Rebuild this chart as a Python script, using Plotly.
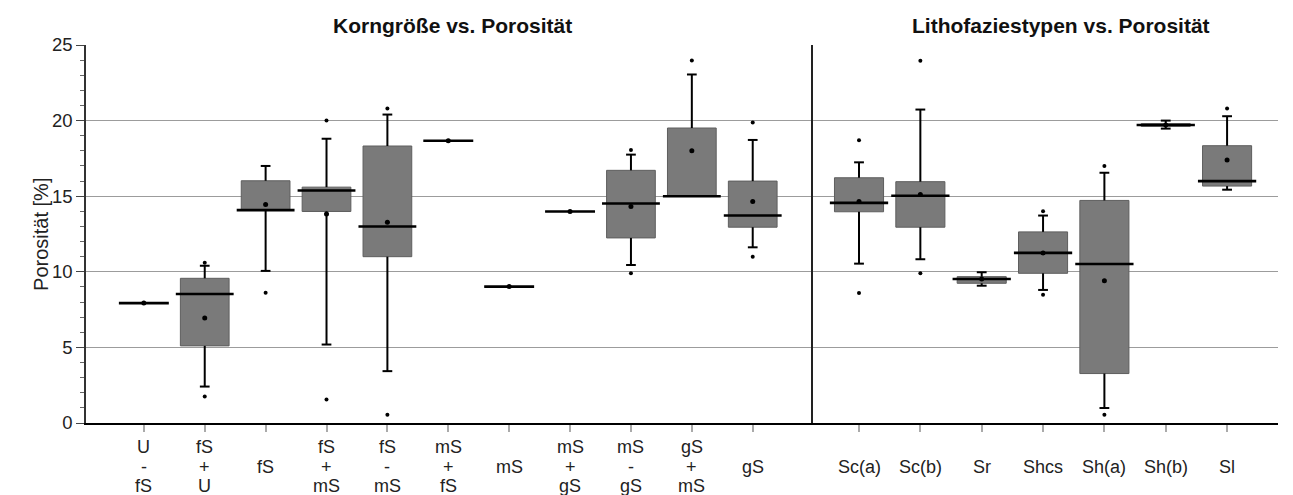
import plotly.graph_objects as go

# ---------------- data ----------------
labels_left = [["U", "-", "fS"], ["fS", "+", "U"], ["fS"], ["fS", "+", "mS"], ["fS", "-", "mS"],
               ["mS", "+", "fS"], ["mS"], ["mS", "+", "gS"], ["mS", "-", "gS"], ["gS", "+", "mS"],
               ["gS"]]
q1_left = [7.93, 5.10, 14.08, 13.99, 11.00, 18.67, 9.02, 13.99, 12.24, 15.00, 12.95]
med_left = [7.93, 8.53, 14.08, 15.38, 13.00, 18.67, 9.02, 13.99, 14.52, 15.00, 13.72]
q3_left = [7.93, 9.57, 16.02, 15.60, 18.32, 18.67, 9.02, 13.99, 16.71, 19.51, 16.00]
wlo_left = [7.93, 2.41, 10.06, 5.19, 3.43, 18.67, 9.02, 13.99, 10.45, 15.00, 11.62]
whi_left = [7.93, 10.40, 17.00, 18.80, 20.40, 18.67, 9.02, 13.99, 17.75, 23.05, 18.72]
mean_left = [7.93, 6.94, 14.45, 13.83, 13.28, 18.67, 9.02, 13.99, 14.32, 18.01, 14.65]
out_left = [[], [10.6, 1.75], [8.62], [20.0, 1.55], [20.8, 0.55], [], [], [], [18.06, 9.9], [23.98], [19.87, 11.0]]

labels_right = [["Sc(a)"], ["Sc(b)"], ["Sr"], ["Shcs"], ["Sh(a)"], ["Sh(b)"], ["Sl"]]
q1_right = [13.97, 12.95, 9.24, 9.90, 3.27, 19.62, 15.67]
med_right = [14.56, 15.03, 9.52, 11.25, 10.52, 19.71, 16.00]
q3_right = [16.22, 15.96, 9.68, 12.64, 14.72, 19.80, 18.34]
wlo_right = [10.54, 10.83, 9.08, 8.80, 0.99, 19.47, 15.43]
whi_right = [17.24, 20.73, 9.97, 13.72, 16.55, 20.00, 20.29]
mean_right = [14.65, 15.12, 9.52, 11.25, 9.41, 19.71, 17.39]
out_right = [[18.7, 8.6], [23.96, 9.9], [], [14.0, 8.49], [17.0, 0.55], [], [20.8]]

title_left = "Korngröße vs. Porosität"
title_right = "Lithofaziestypen vs. Porosität"
y_title = "Porosität [%]"

# ---------------- styles ----------------
FONT = "Liberation Sans, Arial, sans-serif"
BOX_FILL = "#7a7a7a"
BOX_LINE = "#5e5e5e"
BOX_W = 0.8
CAP_HW = 0.08
LABEL_FIRST = -24     # px below the x axis, first label line
LABEL_STEP = -19.5    # px between label lines


def panel_traces(q1, med, q3, wlo, whi, mean, outs, xa, ya):
    n = len(q1)
    xs = list(range(n))
    traces = []
    traces.append(go.Bar(x=xs, y=[b - a for a, b in zip(q1, q3)], base=q1, width=BOX_W,
                         marker=dict(color=BOX_FILL, line=dict(color=BOX_LINE, width=1)),
                         xaxis=xa, yaxis=ya, hoverinfo="skip", showlegend=False))
    wx, wy = [], []
    for i in xs:
        if whi[i] > q3[i]:
            wx += [i, i, None, i - CAP_HW, i + CAP_HW, None]
            wy += [q3[i], whi[i], None, whi[i], whi[i], None]
        if wlo[i] < q1[i]:
            wx += [i, i, None, i - CAP_HW, i + CAP_HW, None]
            wy += [q1[i], wlo[i], None, wlo[i], wlo[i], None]
    traces.append(go.Scatter(x=wx, y=wy, mode="lines", line=dict(color="black", width=2),
                             xaxis=xa, yaxis=ya, hoverinfo="skip", showlegend=False))
    mx, my = [], []
    for i in xs:
        hw = 0.475 if q3[i] > q1[i] else 0.41
        mx += [i - hw, i + hw, None]
        my += [med[i], med[i], None]
    traces.append(go.Scatter(x=mx, y=my, mode="lines", line=dict(color="black", width=2.6),
                             xaxis=xa, yaxis=ya, hoverinfo="skip", showlegend=False))
    traces.append(go.Scatter(x=xs, y=mean, mode="markers",
                             marker=dict(color="black", size=5),
                             xaxis=xa, yaxis=ya, hoverinfo="skip", showlegend=False))
    ox, oy = [], []
    for i in xs:
        for v in outs[i]:
            ox.append(i)
            oy.append(v)
    traces.append(go.Scatter(x=ox, y=oy, mode="markers", marker=dict(color="black", size=4),
                             xaxis=xa, yaxis=ya, hoverinfo="skip", showlegend=False))
    return traces


def label_annotations(labels, xref):
    anns = []
    for i, lines in enumerate(labels):
        start = 1 if len(lines) == 1 else 0
        for k, line in enumerate(lines):
            anns.append(dict(text=line, xref=xref, yref="paper", x=i, y=0,
                             xanchor="center", yanchor="middle", showarrow=False, borderpad=0,
                             yshift=LABEL_FIRST + LABEL_STEP * (start + k),
                             font=dict(family=FONT, size=18, color="#222222")))
    return anns


fig = go.Figure()
for t in panel_traces(q1_left, med_left, q3_left, wlo_left, whi_left, mean_left, out_left, "x", "y"):
    fig.add_trace(t)
for t in panel_traces(q1_right, med_right, q3_right, wlo_right, whi_right, mean_right, out_right, "x2", "y2"):
    fig.add_trace(t)

SPLIT = 0.6099
xcommon = dict(showgrid=False, zeroline=False, showline=True, linecolor="black", linewidth=1.5,
               ticks="outside", ticklen=7, tickcolor="#aaaaaa", tickwidth=1.5,
               showticklabels=False, automargin=False, tickmode="array")

annotations = [
    dict(text="<b>" + title_left + "</b>", xref="paper", yref="paper", x=0.3075, y=1.052,
         xanchor="center", yanchor="middle", showarrow=False,
         font=dict(family=FONT, size=21, color="#111111")),
    dict(text="<b>" + title_right + "</b>", xref="paper", yref="paper", x=0.8177, y=1.052,
         xanchor="center", yanchor="middle", showarrow=False,
         font=dict(family=FONT, size=21, color="#111111")),
    dict(text=y_title, xref="paper", yref="paper", x=-0.0378, y=0.5, textangle=-90,
         xanchor="center", yanchor="middle", showarrow=False,
         font=dict(family=FONT, size=20, color="#222222")),
]
annotations += label_annotations(labels_left, "x")
annotations += label_annotations(labels_right, "x2")

# page body has an 8px default margin, so the figure is 8px smaller and margins shifted
fig.update_layout(
    width=1285, height=487,
    margin=dict(l=78, r=15, t=37, b=72, autoexpand=False),
    paper_bgcolor="white", plot_bgcolor="white",
    barmode="overlay",
    xaxis=dict(domain=[0, SPLIT], range=[-0.95, 10.99], anchor="y",
               tickvals=list(range(len(labels_left))), **xcommon),
    xaxis2=dict(domain=[SPLIT, 1], range=[-0.75, 6.83], anchor="y2",
                tickvals=list(range(len(labels_right))), **xcommon),
    yaxis=dict(range=[0, 25], dtick=5, anchor="x", showgrid=True, gridcolor="#9c9c9c", gridwidth=1.2,
               zeroline=False, showline=True, linecolor="#333333", linewidth=1.5, automargin=False,
               ticks="outside", ticklen=8, tickcolor="#444444", tickwidth=1,
               minor=dict(dtick=1, ticks="outside", ticklen=4, tickcolor="#666666", showgrid=False),
               tickfont=dict(family=FONT, size=18.5, color="#222222")),
    yaxis2=dict(range=[0, 25], dtick=5, anchor="x2", matches="y", showgrid=True, gridcolor="#9c9c9c",
                gridwidth=1.2, zeroline=False, showline=True, linecolor="#222222", linewidth=1.5,
                automargin=False, showticklabels=False, ticks=""),
    annotations=annotations,
)

fig.write_html("out.html")
